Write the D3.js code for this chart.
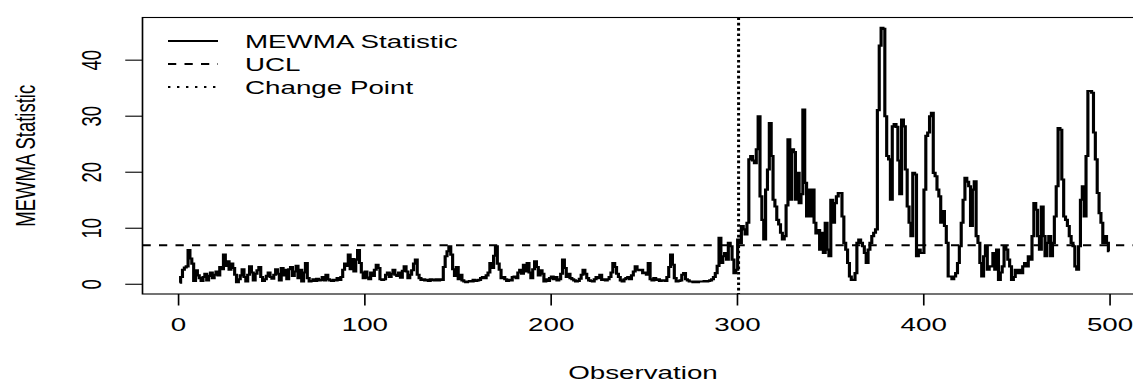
<!DOCTYPE html>
<html>
<head>
<meta charset="utf-8">
<script src="https://cdn.jsdelivr.net/npm/d3@7"></script>
<style>
  html, body { margin: 0; padding: 0; background: #ffffff; }
  svg { display: block; }
  text { font-family: "Liberation Sans", Arial, sans-serif; fill: #000; }
</style>
</head>
<body>
<div id="chart"></div>
<script>
// ---------- data ----------
const mewma = [
  0.2, 1.2, 2.5, 2.9, 3.1, 6.0, 4.5, 3.6, 0.5, 2.4,
  1.5, 1.0, 0.5, 1.2, 1.8, 0.6, 1.4, 2.0, 1.0, 1.6,
  2.2, 1.5, 3.0, 2.6, 5.2, 3.2, 4.0, 2.5, 3.6, 2.8,
  1.6, 0.3, 0.8, 1.5, 2.6, 1.2, 0.4, 1.6, 3.1, 2.0,
  0.6, 1.8, 2.4, 3.0, 1.2, 0.5, 0.8, 1.4, 2.0, 1.2,
  0.9, 1.6, 2.6, 1.8, 0.6, 2.8, 1.5, 2.5, 0.8, 2.6,
  3.0, 1.4, 2.2, 3.2, 1.0, 2.5, 0.4, 2.0, 3.7, 1.0,
  0.4, 0.5, 0.8, 0.5, 0.9, 0.6, 0.7, 1.2, 0.6, 1.6,
  0.8, 0.6, 0.5, 0.7, 0.6, 1.0, 0.7, 1.2, 2.5, 3.6,
  3.2, 5.2, 2.6, 4.4, 2.2, 4.3, 6.0, 3.7, 2.0, 1.0,
  2.2, 1.1, 0.8, 2.0, 1.4, 2.5, 3.4, 2.8, 0.8, 0.7,
  0.8, 1.6, 2.0, 1.2, 1.8, 2.5, 1.6, 1.4, 2.0, 1.1,
  2.3, 3.1, 2.2, 1.0, 1.6, 2.4, 3.6, 4.3, 1.6, 1.0,
  0.7, 0.8, 0.6, 0.7, 0.5, 0.8, 0.7, 0.6, 0.8, 0.6,
  0.8, 0.7, 3.0, 4.9, 5.8, 6.7, 5.2, 2.6, 1.4, 3.0,
  0.8, 1.6, 0.6, 0.4, 0.3, 0.4, 0.5, 0.4, 0.7, 0.5,
  0.6, 0.7, 1.0, 1.2, 1.0, 1.5, 2.0, 3.7, 2.8, 5.0,
  6.7, 3.6, 2.5, 1.0, 1.2, 0.8, 0.5, 0.7, 0.6, 1.2,
  1.3, 1.0, 2.0, 2.5, 1.8, 3.4, 2.2, 3.7, 2.0, 1.0,
  2.6, 4.0, 3.0, 1.5, 2.4, 1.8, 0.4, 0.8, 0.5, 1.0,
  1.3, 0.8, 1.2, 0.6, 0.8, 1.8, 4.3, 2.8, 1.2, 1.8,
  1.0, 0.8, 0.6, 0.4, 0.5, 0.9, 1.6, 2.5, 1.8, 1.0,
  0.6, 0.5, 0.4, 0.8, 1.2, 1.0, 1.6, 0.7, 0.8, 0.6,
  0.8, 1.2, 2.0, 3.7, 3.0, 1.8, 1.2, 0.6, 0.4, 0.8,
  1.0, 1.2, 0.8, 1.5, 2.2, 3.1, 2.5, 2.4, 2.5, 1.9,
  2.0, 1.6, 3.7, 0.8, 0.6, 1.0, 0.7, 0.8, 0.5, 0.6,
  0.6, 0.5, 1.2, 3.0, 5.2, 3.4, 1.0, 0.4, 0.5, 0.6,
  1.6, 1.9, 0.8, 0.6, 0.4, 0.4, 0.3, 0.4, 0.3, 0.4,
  0.4, 0.4, 0.5, 0.4, 0.5, 0.6, 0.8, 1.2, 1.9, 3.2,
  8.2, 3.7, 4.9, 5.5, 4.3, 7.3, 6.7, 4.3, 1.9, 2.5,
  7.9, 7.3, 10.3, 9.7, 8.8, 10.9, 22.2, 22.8, 22.0, 21.5,
  24.0, 29.9, 15.6, 11.4, 7.9, 16.8, 20.4, 28.7, 22.8, 15.0,
  13.8, 11.4, 10.6, 9.1, 7.9, 8.5, 14.0, 25.8, 15.0, 24.0,
  23.5, 15.0, 19.8, 14.4, 16.0, 31.1, 18.0, 12.0, 16.8, 12.0,
  16.8, 10.9, 9.0, 9.6, 6.1, 9.1, 5.5, 10.9, 6.1, 4.9,
  15.0, 10.9, 14.4, 15.6, 16.2, 16.2, 12.0, 7.3, 6.1, 3.7,
  1.3, 0.7, 0.7, 1.9, 7.3, 7.9, 7.3, 6.7, 5.5, 3.7,
  6.1, 7.3, 8.5, 9.1, 9.7, 31.0, 42.5, 45.7, 45.5, 29.9,
  22.8, 22.2, 15.0, 28.1, 28.5, 28.0, 22.0, 16.0, 29.3, 28.1,
  20.4, 13.8, 10.9, 8.5, 19.8, 19.5, 4.9, 6.1, 5.5, 5.5,
  16.8, 26.4, 27.0, 29.9, 30.5, 19.8, 19.2, 16.8, 15.6, 10.9,
  13.0, 10.3, 7.3, 1.3, 1.3, 0.8, 1.3, 1.9, 3.7, 6.7,
  10.9, 15.0, 18.9, 18.2, 17.4, 10.3, 16.8, 18.3, 8.5, 7.3,
  3.7, 1.3, 4.9, 6.7, 2.5, 3.1, 3.1, 5.5, 2.5, 6.1,
  0.7, 2.0, 3.1, 6.7, 6.1, 4.3, 3.1, 0.7, 1.2, 2.5,
  1.9, 2.5, 1.9, 3.1, 3.7, 3.1, 4.9, 4.3, 8.5, 14.4,
  13.2, 8.5, 6.1, 13.8, 8.5, 4.9, 7.3, 8.5, 4.9, 7.3,
  12.0, 17.4, 27.8, 27.5, 18.6, 12.0, 11.4, 10.3, 8.5, 7.3,
  6.7, 3.1, 2.5, 6.7, 15.0, 17.4, 12.0, 22.8, 34.4, 34.4,
  34.1, 27.0, 22.2, 16.2, 12.6, 10.9, 7.3, 8.5, 7.3, 5.8
];
const ucl = 6.86;
const changePoint = 301;
const xTicks = [0, 100, 200, 300, 400, 500];
const yTicks = [0, 10, 20, 30, 40];
const legendLabels = ["MEWMA Statistic", "UCL", "Change Point"];
const xTitle = "Observation";
const yTitle = "MEWMA Statistic";

// ---------- layout ----------
const W = 1133, H = 383;
const SX = 1.5;            // the reference is stretched horizontally
const FS = 18.5;

const svg = d3.select("#chart").append("svg")
  .attr("width", W).attr("height", H)
  .style("background", "#fff");

const g = svg.append("g").attr("transform", `scale(${SX},1)`);

const xDom = [1 - 0.04 * (mewma.length - 1), mewma.length + 0.04 * (mewma.length - 1)];
const yMax = d3.max(mewma), yMin = 0;
const yDom = [yMin - 0.04 * (yMax - yMin), yMax + 0.04 * (yMax - yMin)];

const x = d3.scaleLinear().domain(xDom).range([142.5 / SX, 1146.5 / SX]);
const y = d3.scaleLinear().domain(yDom).range([294, 17.5]);

const [x0, x1] = x.range();
const [yb, yt] = y.range();

svg.append("defs").append("clipPath").attr("id", "plotclip")
  .append("rect").attr("x", x0).attr("y", yt).attr("width", x1 - x0).attr("height", yb - yt);

const plot = g.append("g").attr("clip-path", "url(#plotclip)");

// UCL
plot.append("line")
  .attr("x1", x0).attr("x2", x1)
  .attr("y1", y(ucl)).attr("y2", y(ucl))
  .attr("stroke", "#000").attr("stroke-width", 2)
  .attr("stroke-dasharray", "5.5 5.5");

// change point
plot.append("line")
  .attr("x1", x(changePoint)).attr("x2", x(changePoint))
  .attr("y1", yt).attr("y2", yb)
  .attr("stroke", "#000").attr("stroke-width", 2)
  .attr("stroke-dasharray", "2.6 2.7");

// series
const line = d3.line().x((d, i) => x(i + 1)).y(d => y(d)).curve(d3.curveStep);
plot.append("path")
  .datum(mewma)
  .attr("d", line)
  .attr("fill", "none")
  .attr("stroke", "#000")
  .attr("stroke-width", 2.1)
  .attr("stroke-linejoin", "miter");

// box
g.append("rect")
  .attr("x", x0).attr("y", yt)
  .attr("width", x1 - x0).attr("height", yb - yt)
  .attr("fill", "none").attr("stroke", "#000").attr("stroke-width", 1.1);

// x axis
const xAxis = g.append("g")
  .attr("transform", `translate(0,${yb})`)
  .call(d3.axisBottom(x).tickValues(xTicks).tickSize(11.5).tickFormat(d3.format("d")));
xAxis.select(".domain").remove();
xAxis.selectAll(".tick line").attr("stroke", "#000").attr("stroke-width", 1.1);
xAxis.selectAll(".tick text")
  .attr("y", 37.5).attr("dy", 0)
  .attr("font-size", FS)
  .style("font-family", '"Liberation Sans", Arial, sans-serif')
  .attr("fill", "#000");

// y axis
const yAxis = g.append("g")
  .attr("transform", `translate(${x0},0)`)
  .call(d3.axisLeft(y).tickValues(yTicks).tickSize(11.5).tickFormat(d3.format("d")));
yAxis.select(".domain").remove();
yAxis.selectAll(".tick line").attr("stroke", "#000").attr("stroke-width", 1.1);
yAxis.selectAll(".tick text")
  .attr("transform", "rotate(-90)")
  .attr("x", 0).attr("y", -27.5).attr("dy", 0)
  .attr("text-anchor", "middle")
  .attr("font-size", FS)
  .style("font-family", '"Liberation Sans", Arial, sans-serif')
  .attr("fill", "#000");

// axis titles
g.append("text")
  .attr("x", 643 / SX)
  .attr("y", 379.5)
  .attr("text-anchor", "middle")
  .attr("font-size", FS)
  .text(xTitle);

g.append("text")
  .attr("transform", `translate(${23.3},${(yt + yb) / 2}) rotate(-90)`)
  .attr("text-anchor", "middle")
  .attr("font-size", FS)
  .text(yTitle);

// legend
const legY = [41, 64, 87];
const legDash = [null, "5.5 5.5", "1.6 4.4"];
const leg = g.append("g");
legendLabels.forEach((lab, i) => {
  leg.append("line")
    .attr("x1", 168 / SX).attr("x2", 218 / SX)
    .attr("y1", legY[i]).attr("y2", legY[i])
    .attr("stroke", "#000").attr("stroke-width", 2)
    .attr("stroke-dasharray", legDash[i]);
  leg.append("text")
    .attr("x", 245 / SX).attr("y", legY[i] + 6.6)
    .attr("font-size", FS)
    .text(lab);
});
</script>
</body>
</html>
